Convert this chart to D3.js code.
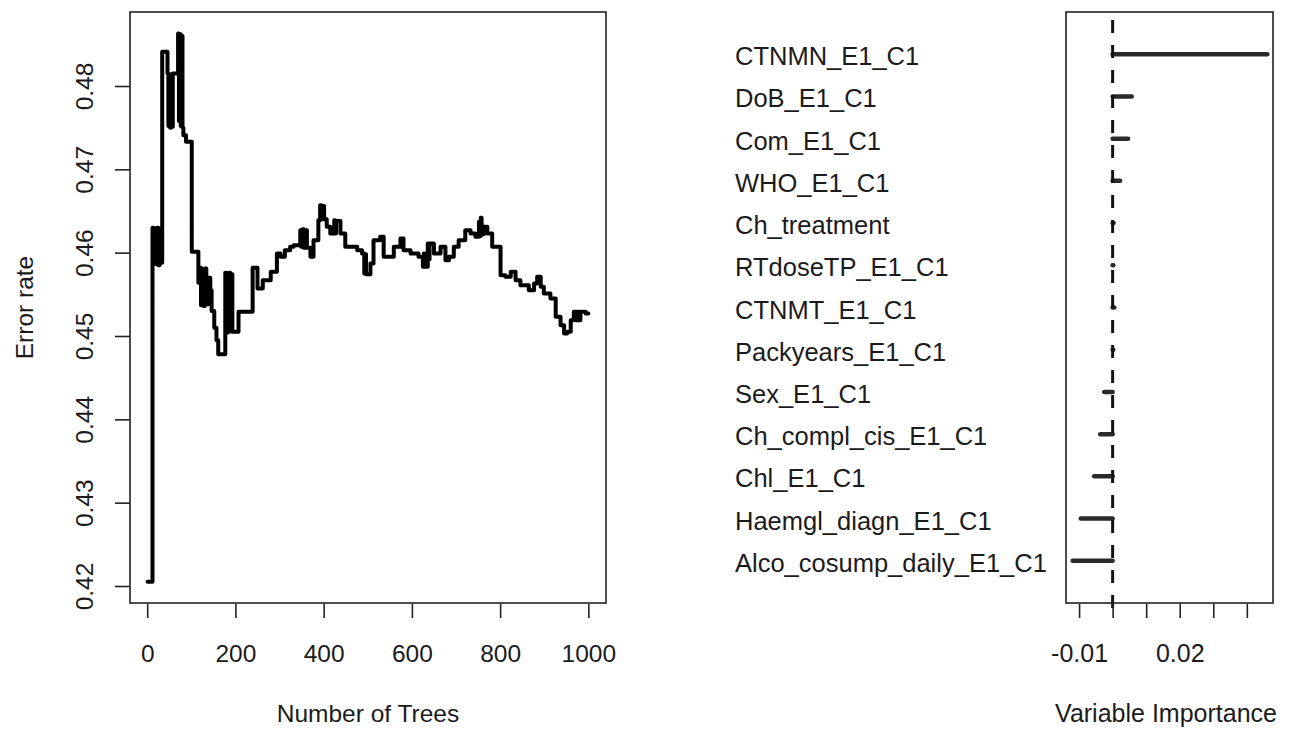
<!DOCTYPE html>
<html>
<head>
<meta charset="utf-8">
<script src="https://cdn.jsdelivr.net/npm/d3@7"></script>
<style>
  body { margin: 0; background: #fff; }
  svg { display: block; font-family: "Liberation Sans", Arial, sans-serif; }
</style>
</head>
<body>
<svg id="chart" width="1294" height="729"></svg>
<script>
// OOB error rate vs number of trees (step points)
const stepTrees = [1, 12, 14, 16, 19, 22, 25, 28, 31, 34, 46, 48, 50, 52, 54, 56, 58, 70, 72, 74, 76, 78, 80, 82, 88,
  101, 116, 120, 122, 125, 128, 131, 134, 139, 143, 146, 152, 157, 161, 177, 180, 182, 184, 186, 188, 190, 193,
  207, 239, 250, 262, 280, 294, 302, 312, 324, 332, 347, 349, 352, 355, 358, 362, 370, 377, 388, 392, 395, 398,
  401, 407, 415, 424, 426, 428, 438, 449, 476, 487, 492, 494, 496, 506, 513, 528, 536, 559, 574, 581, 597, 615,
  625, 627, 629, 636, 638, 640, 650, 665, 676, 684, 695, 706, 721, 733, 744, 752, 754, 756, 758, 763, 771, 782,
  801, 812, 824, 835, 846, 865, 877, 884, 892, 899, 914, 926, 937, 945, 952, 960, 967, 972, 975, 978, 982, 994, 1000];
const errorRate = [0.4205, 0.4630, 0.4586, 0.4629, 0.4587, 0.4630, 0.4585, 0.4628, 0.4588, 0.4841, 0.4815, 0.4752,
  0.4812, 0.4750, 0.4814, 0.4751, 0.4815, 0.4863, 0.4758, 0.4862, 0.4752, 0.4860, 0.4750, 0.4741, 0.4733,
  0.4601, 0.4564, 0.4582, 0.4537, 0.4580, 0.4536, 0.4581, 0.4538, 0.4570, 0.4555, 0.4530, 0.4510, 0.4495, 0.4478,
  0.4576, 0.4504, 0.4575, 0.4505, 0.4576, 0.4506, 0.4574, 0.4505,
  0.4529, 0.4582, 0.4557, 0.4567, 0.4577, 0.4599, 0.4595, 0.4603, 0.4607, 0.4609, 0.4627, 0.4607, 0.4628, 0.4606,
  0.4627, 0.4606, 0.4595, 0.4615, 0.4639, 0.4657, 0.4640, 0.4656, 0.4640, 0.4631, 0.4623, 0.4639, 0.4623, 0.4638,
  0.4623, 0.4607, 0.4603, 0.4599, 0.4575, 0.4598, 0.4574, 0.4587, 0.4615, 0.4619, 0.4595, 0.4607, 0.4617, 0.4603,
  0.4599, 0.4595, 0.4583, 0.4599, 0.4583, 0.4611, 0.4592, 0.4611, 0.4599, 0.4607, 0.4591, 0.4595, 0.4607, 0.4615,
  0.4627, 0.4623, 0.4619, 0.4637, 0.4620, 0.4642, 0.4622, 0.4631, 0.4623, 0.4607, 0.4573, 0.4571, 0.4577, 0.4567,
  0.4561, 0.4555, 0.4563, 0.4571, 0.4559, 0.4551, 0.4545, 0.4523, 0.4513, 0.4503, 0.4505, 0.4519, 0.4529, 0.4519,
  0.4529, 0.4519, 0.4529, 0.4527, 0.4527];
const treeTicks = [0, 200, 400, 600, 800, 1000];
const errorTicks = [0.42, 0.43, 0.44, 0.45, 0.46, 0.47, 0.48];

// variable importance
const variables = ["CTNMN_E1_C1", "DoB_E1_C1", "Com_E1_C1", "WHO_E1_C1", "Ch_treatment", "RTdoseTP_E1_C1",
  "CTNMT_E1_C1", "Packyears_E1_C1", "Sex_E1_C1", "Ch_compl_cis_E1_C1", "Chl_E1_C1", "Haemgl_diagn_E1_C1",
  "Alco_cosump_daily_E1_C1"];
const importance = [0.0461, 0.0057, 0.0046, 0.0022, 0.0003, 0.0002, 0.0005, 0.0002, -0.0025, -0.0037, -0.0055,
  -0.0095, -0.0119];
const importanceTicks = [-0.01, 0, 0.01, 0.02, 0.03, 0.04];
const importanceTickLabels = ["-0.01", "", "", "0.02", "", ""];

const svg = d3.select("#chart");
const ink = "#1b1b1b";

// ---------- left panel ----------
const L = { left: 130, right: 606, top: 12, bottom: 603 };
const x = d3.scaleLinear().domain([-39, 1040]).range([L.left, L.right]);
const y = d3.scaleLinear().domain([0.41796, 0.48888]).range([L.bottom, L.top]);

const line = d3.line()
  .x((d, i) => x(stepTrees[i]))
  .y(d => y(d))
  .curve(d3.curveStepAfter);

svg.append("path")
  .attr("d", line(errorRate))
  .attr("fill", "none")
  .attr("stroke", "#000")
  .attr("stroke-width", 4)
  .attr("stroke-linejoin", "round")
  .attr("stroke-linecap", "round");

svg.append("rect")
  .attr("x", L.left).attr("y", L.top)
  .attr("width", L.right - L.left).attr("height", L.bottom - L.top)
  .attr("fill", "none").attr("stroke", "#222").attr("stroke-width", 1.6);

let xAxis = svg.append("g")
  .attr("transform", `translate(0,${L.bottom + 1})`)
  .call(d3.axisBottom(x).tickValues(treeTicks).tickSize(14).tickFormat(d3.format("d")));
xAxis.select(".domain").remove();
xAxis.selectAll("line").attr("stroke", "#222").attr("stroke-width", 1.6);
xAxis.selectAll("text")
  .attr("y", 58).attr("dy", 0)
  .attr("font-size", "24.5px").attr("font-family", "Liberation Sans, Arial, sans-serif").attr("fill", ink);

let yAxis = svg.append("g")
  .attr("transform", `translate(${L.left},0)`)
  .call(d3.axisLeft(y).tickValues(errorTicks).tickSize(15).tickFormat(d3.format(".2f")));
yAxis.select(".domain").remove();
yAxis.selectAll("line").attr("stroke", "#222").attr("stroke-width", 1.6);
yAxis.selectAll("text")
  .attr("transform", "rotate(-90)")
  .attr("x", 0).attr("y", -37).attr("dy", 0)
  .attr("text-anchor", "middle")
  .attr("font-size", "24.5px").attr("font-family", "Liberation Sans, Arial, sans-serif").attr("fill", ink);

svg.append("text")
  .attr("x", (L.left + L.right) / 2).attr("y", 722)
  .attr("text-anchor", "middle").attr("font-size", "24.5px").attr("fill", ink)
  .text("Number of Trees");

svg.append("text")
  .attr("transform", `translate(33,${(L.top + L.bottom) / 2}) rotate(-90)`)
  .attr("text-anchor", "middle").attr("font-size", "24.5px").attr("fill", ink)
  .text("Error rate");

// ---------- right panel ----------
const R = { left: 1066, right: 1273, top: 12, bottom: 603 };
const xi = d3.scaleLinear().domain([-0.0139, 0.0478]).range([R.left, R.right]);
const yi = d3.scalePoint().domain(variables).range([R.top, R.bottom]).padding(1);

svg.selectAll(".bar")
  .data(importance)
  .enter()
  .append("line")
  .attr("class", "bar")
  .attr("x1", xi(0))
  .attr("x2", d => xi(d))
  .attr("y1", (d, i) => yi(variables[i]))
  .attr("y2", (d, i) => yi(variables[i]))
  .attr("stroke", "#2a2a2a")
  .attr("stroke-width", 4.5)
  .attr("stroke-linecap", "round");

svg.append("line")
  .attr("x1", xi(0)).attr("x2", xi(0))
  .attr("y1", R.top + 8).attr("y2", R.bottom + 16)
  .attr("stroke", "#111").attr("stroke-width", 3)
  .attr("stroke-dasharray", "13,12");

svg.append("rect")
  .attr("x", R.left).attr("y", R.top)
  .attr("width", R.right - R.left).attr("height", R.bottom - R.top)
  .attr("fill", "none").attr("stroke", "#222").attr("stroke-width", 1.6);

svg.selectAll(".varlabel")
  .data(variables)
  .enter()
  .append("text")
  .attr("class", "varlabel")
  .attr("x", 735)
  .attr("y", d => yi(d) + 11)
  .attr("font-size", "25.5px")
  .attr("fill", ink)
  .text(d => d);

let iAxis = svg.append("g")
  .attr("transform", `translate(0,${R.bottom + 1})`)
  .call(d3.axisBottom(xi).tickValues(importanceTicks).tickSize(14)
    .tickFormat((d, i) => importanceTickLabels[i]));
iAxis.select(".domain").remove();
iAxis.selectAll("line").attr("stroke", "#222").attr("stroke-width", 1.6);
iAxis.selectAll("text")
  .attr("y", 58).attr("dy", 0)
  .attr("font-size", "25px").attr("font-family", "Liberation Sans, Arial, sans-serif").attr("fill", ink);

svg.append("text")
  .attr("x", 1166).attr("y", 722)
  .attr("text-anchor", "middle").attr("font-size", "25px").attr("fill", ink)
  .text("Variable Importance");
</script>
</body>
</html>
